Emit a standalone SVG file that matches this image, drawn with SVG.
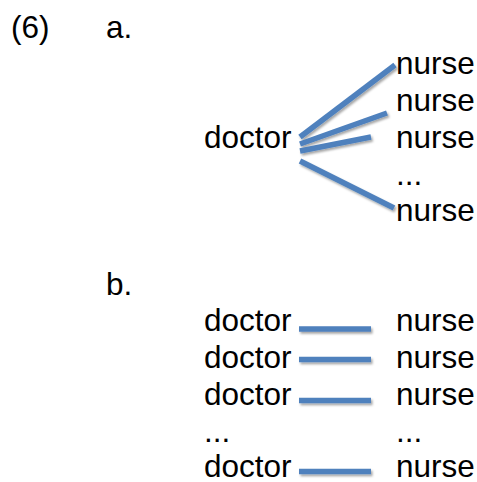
<svg xmlns="http://www.w3.org/2000/svg" width="477" height="482" viewBox="0 0 477 482">
<style>
text{font-family:"Liberation Sans",Arial,sans-serif;font-size:31.5px;fill:#000}
.ln{stroke:#4F81BD;stroke-width:5.5;fill:none;filter:url(#sh)}
</style>
<defs>
<filter id="sh" filterUnits="userSpaceOnUse" x="0" y="0" width="477" height="482">
<feDropShadow dx="1.5" dy="2" stdDeviation="1.2" flood-color="#000" flood-opacity="0.35"/>
</filter>
</defs>
<rect width="477" height="482" fill="#fff"/>
<g id="labels">
<text x="11" y="38">(6)</text>
<text x="106" y="38">a.</text>
<text x="106" y="295">b.</text>
</g>
<g id="connectors">
<line class="ln" x1="300" y1="137" x2="395" y2="65"/>
<line class="ln" x1="300" y1="144" x2="387" y2="113"/>
<line class="ln" x1="300" y1="151" x2="371" y2="137"/>
<line class="ln" x1="300" y1="161" x2="394" y2="208"/>
<line class="ln" x1="299" y1="329" x2="371" y2="329"/>
<line class="ln" x1="299" y1="359.5" x2="371" y2="359.5"/>
<line class="ln" x1="299" y1="400.5" x2="371" y2="400.5"/>
<line class="ln" x1="299" y1="471.5" x2="371" y2="471.5"/>
</g>
<g id="a-doctor"><text x="204" y="148">doctor</text></g>
<g id="a-nurse1"><text x="396" y="74">nurse</text></g>
<g id="a-nurse2"><text x="396" y="111">nurse</text></g>
<g id="a-nurse3"><text x="396" y="148">nurse</text></g>
<g id="a-dots"><text x="396" y="185">...</text></g>
<g id="a-nurse4"><text x="396" y="221">nurse</text></g>
<g id="b-doctor1"><text x="204" y="331">doctor</text></g>
<g id="b-doctor2"><text x="204" y="368">doctor</text></g>
<g id="b-doctor3"><text x="204" y="405">doctor</text></g>
<g id="b-dots-left"><text x="204" y="442">...</text></g>
<g id="b-doctor4"><text x="204" y="477">doctor</text></g>
<g id="b-nurse1"><text x="396" y="331">nurse</text></g>
<g id="b-nurse2"><text x="396" y="368">nurse</text></g>
<g id="b-nurse3"><text x="396" y="405">nurse</text></g>
<g id="b-dots-right"><text x="396" y="442">...</text></g>
<g id="b-nurse4"><text x="396" y="477">nurse</text></g>
</svg>
